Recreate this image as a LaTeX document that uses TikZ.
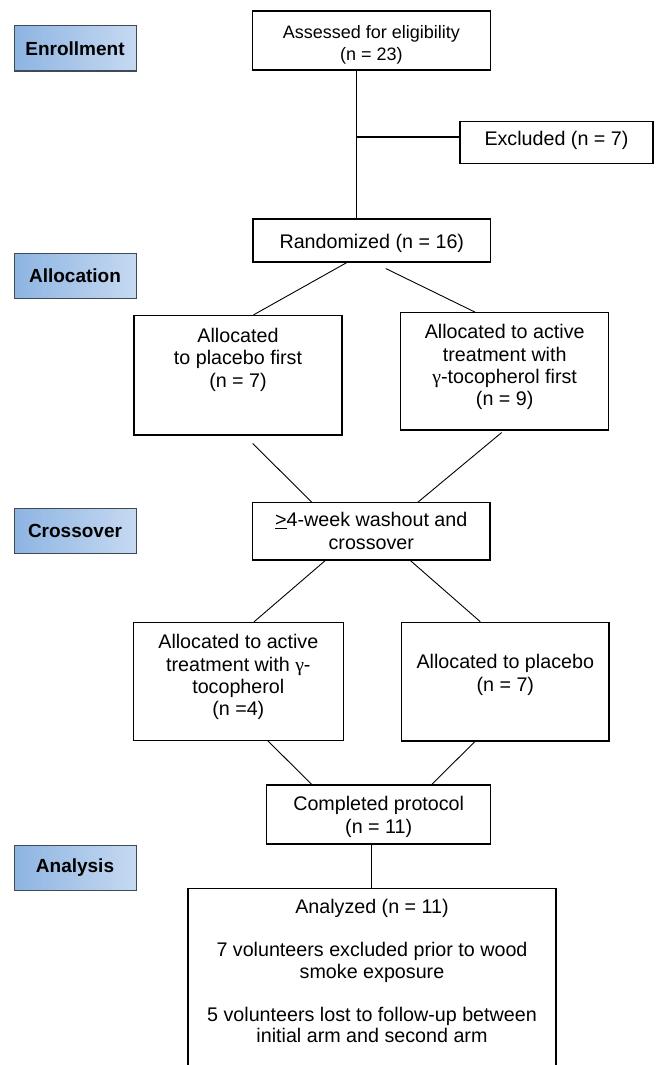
\documentclass[tikz,border=0pt]{standalone}
\usepackage{fontspec}
\setmainfont{Liberation Sans}
\newfontfamily\grk{Liberation Serif}
\usetikzlibrary{calc}
\definecolor{lblL}{HTML}{8DB4E2}
\definecolor{lblR}{HTML}{C6D9F1}
\definecolor{lblB}{HTML}{3F4A56}
\begin{document}
\begin{tikzpicture}[x=1pt,y=-1pt,
  box/.style={draw=black, line width=1.1pt, rectangle, inner sep=0pt},
  txt/.style={anchor=north, inner sep=0pt, align=center, font=\fontsize{19.7}{22.3}\selectfont},
  side/.style={rectangle, draw=lblB, line width=1pt, left color=lblL, right color=lblR,
    minimum width=122pt, minimum height=45pt, inner sep=0pt, font=\fontsize{19}{22}\selectfont\bfseries},
  conn/.style={line width=0.9pt},
  thickconn/.style={line width=1.7pt}]
\useasboundingbox (0,0) rectangle (658,1065);
\clip (0,0) rectangle (658,1065);
\fill[white] (0,0) rectangle (658,1065);

% side labels
\node[side] (enroll) at (75,48.5) {Enrollment};
\node[side] (alloc) at (75,276) {Allocation};
\node[side] (cross) at (75,530.5) {Crossover};
\node[side] (analysis) at (75,868) {Analysis};

% boxes
\node[box, minimum width=237.3pt, minimum height=59pt] (assess) at (371.4,40.5) {};
\node[box, minimum width=193pt, minimum height=41.6pt] (excl) at (556.5,142.5) {};
\node[box, minimum width=237.7pt, minimum height=43pt] (rand) at (371.8,240.5) {};
\node[box, minimum width=208pt, minimum height=119.5pt] (plac1) at (238,375.2) {};
\node[box, minimum width=208pt, minimum height=117.3pt] (act1) at (504.7,371.3) {};
\node[box, minimum width=237.3pt, minimum height=57.3pt] (wash) at (371.3,531.3) {};
\node[box, minimum width=210pt, minimum height=118pt] (act2) at (238.3,681.4) {};
\node[box, minimum width=207.3pt, minimum height=118.7pt] (plac2) at (505.3,681.6) {};
\node[box, minimum width=224pt, minimum height=59pt] (comp) at (378.7,814.5) {};
\node[box, anchor=north, minimum width=368pt, minimum height=200pt] (anal) at (372,888) {};

% texts
\node[txt, font=\fontsize{18}{22}\selectfont] (tassess) at (371.4,25) {Assessed for eligibility\\(n = 23)};
\node[txt] (texcl) at (556.5,131.5) {Excluded (n = 7)};
\node[txt] (trand) at (371.8,234.5) {Randomized (n = 16)};
\node[txt] (tplac1) at (238,328) {Allocated\\to placebo first\\(n = 7)};
\node[txt] (tact1) at (504.7,324.5) {Allocated to active\\treatment with\\{\grk γ}-tocopherol first\\(n = 9)};
\node[txt] (twash) at (371.3,512.5) {\underline{>}4-week washout and\\crossover};
\node[txt] (tact2) at (238.3,634.5) {Allocated to active\\treatment with {\grk γ}-\\tocopherol\\(n =4)};
\node[txt] (tplac2) at (505.3,654.5) {Allocated to placebo\\(n = 7)};
\node[txt] (tcomp) at (378.7,796.5) {Completed protocol\\(n = 11)};
\node[txt, font=\fontsize{19.7}{21.5}\selectfont] (tanal) at (372,899.5) {Analyzed (n = 11)\\[21.5pt]7 volunteers excluded prior to wood\\smoke exposure\\[21.5pt]5 volunteers lost to follow-up between\\initial arm and second arm};

% connectors
\coordinate (c0) at ($(assess.south)+(-14.7,0)$);
\draw[conn] (c0) -- (c0 |- rand.north);
\coordinate (c1) at ($(excl.west)+(0,-5.8)$);
\draw[thickconn] (c0 |- c1) -- (c1);
\draw[conn] ($(rand.south)+(-25,0)$) -- ($(plac1.north)+(15.5,0)$);
\draw[conn] ($(rand.south)+(14,6)$) -- ($(act1.north)+(-29.7,0)$);
\draw[conn] ($(plac1.south)+(14.7,8)$) -- ($(wash.north)+(-59.6,0)$);
\draw[conn] ($(act1.south)+(-3,2)$) -- ($(wash.north)+(46.7,0)$);
\draw[conn] ($(wash.south)+(-46,0)$) -- ($(act2.north)+(15.7,0)$);
\draw[conn] ($(wash.south)+(39,0)$) -- ($(plac2.north)+(-25,0)$);
\draw[conn] ($(act2.south)+(29.7,0)$) -- ($(comp.north)+(-67,0)$);
\draw[conn] ($(plac2.south)+(-30.3,0)$) -- ($(comp.north)+(53,0)$);
\coordinate (c2) at ($(comp.south)+(-7.7,0)$);
\draw[conn] (c2) -- (c2 |- anal.north);
\end{tikzpicture}
\end{document}
